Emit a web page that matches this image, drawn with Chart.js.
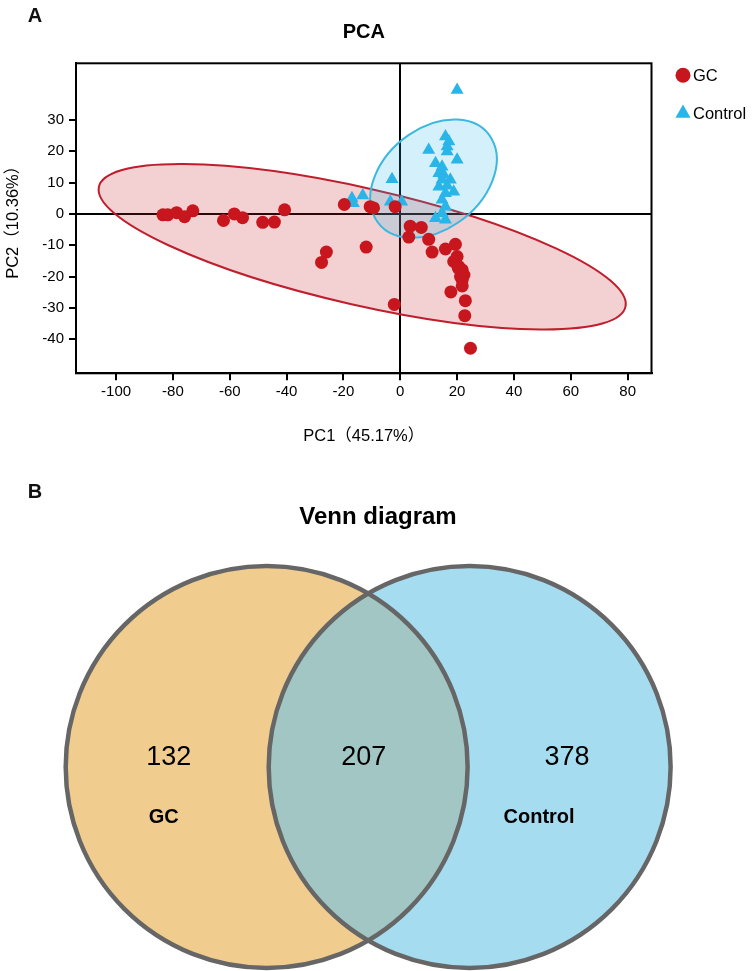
<!DOCTYPE html>
<html>
<head>
<meta charset="utf-8">
<script src="https://cdn.jsdelivr.net/npm/chart.js@4.4.0/dist/chart.umd.min.js"></script>
<style>
  html, body { margin: 0; padding: 0; background: #ffffff; }
  #wrap { position: relative; width: 756px; height: 971px; overflow: hidden; background: #fff; }
  #pca { position: absolute; left: 0; top: 0; }
  #venn { position: absolute; left: 0; top: 470px; }
</style>
</head>
<body>
<div id="wrap">
  <canvas id="pca" width="756" height="450"></canvas>
  <canvas id="venn" width="756" height="501"></canvas>
</div>
<script>
// ---------------- DATA ----------------
const seriesNames = ['GC', 'Control'];

const gcPC1 = [-83.5, -81.8, -78.7, -75.9, -73.0, -62.2, -58.4, -55.5, -48.4, -44.3, -40.7,
               -26.0, -27.7, -19.7, -12.0, -10.6, -9.4, -1.8, -2.1,
               3.5, 7.4, 3.0, 10.0, 11.2, 15.9, 19.4, 20.0, 18.8, 20.6, 21.8, 22.4,
               21.8, 21.8, 17.8, 22.9, 22.7, 24.7, 21.2, 20.4];
const gcPC2 = [-0.3, -0.3, 0.4, -0.9, 1.0, -2.1, 0.0, -1.2, -2.7, -2.6, 1.3,
               -12.2, -15.5, 3.0, -10.6, 2.3, 1.9, 2.3, -28.9,
               -3.9, -4.3, -7.4, -8.1, -12.2, -11.2, -9.7, -13.6, -15.2, -16.8, -17.9, -19.5,
               -21.1, -23.0, -24.9, -27.7, -32.5, -42.9, -20.0, -17.3];

const ctrlPC1 = [20.0, -17.0, -16.5, -13.2, -2.9, -3.5, 0.5,
                 15.9, 17.1, 10.0, 16.5, 20.0, 12.4, 14.7, 13.6, 17.6, 14.7, 13.6,
                 18.8, 15.9, 14.7, 15.9, 14.7, 12.4, 15.9, 16.5, 15.3, 16.5, 14.1];
const ctrlPC2 = [39.6, 5.0, 3.4, 5.9, 11.1, 3.9, 3.9,
                 24.7, 23.1, 20.4, 19.9, 17.3, 16.2, 15.1, 13.0, 10.9, 10.9, 8.7,
                 7.1, 6.6, 4.5, 2.3, 0.2, -1.4, -1.9, 21.5, 12.5, 9.0, 13.5];

// confidence ellipses (GC, Control) in PC units
const ellipseCenterPC1 = [-13.4, 11.7];
const ellipseCenterPC2 = [-10.5, 11.25];
const ellipseSemiMajor = [94.6, 24.1];
const ellipseSemiMinor = [18.7, 16.46];
const ellipseAngleDeg  = [-11.6, 31.8];

const xTicks = [-100, -80, -60, -40, -20, 0, 20, 40, 60, 80];
const yTicks = [-40, -30, -20, -10, 0, 10, 20, 30];

// Venn
const vennSets   = ['GC', 'Control'];
const vennOnly   = [132, 378];
const vennShared = 207;

// ---------------- STYLE / LAYOUT ----------------
const FONT = "'Liberation Sans', Arial, 'Noto Sans CJK SC', sans-serif";
Chart.defaults.font.family = FONT;
Chart.defaults.color = '#000';

const RED = '#c8161e', BLUE = '#29b5e8';
const ELL_FILL = ['rgba(200,40,50,0.22)', 'rgba(40,180,230,0.20)'];
const ELL_LINE = ['#bf1e2d', '#3cb8e0'];

const panelLetter = (letter, x, y) => ({
  id: 'letter' + letter,
  afterDraw(chart) {
    const c = chart.ctx;
    c.save();
    c.font = "bold 20px " + FONT;
    c.fillStyle = '#111';
    c.textAlign = 'center';
    c.textBaseline = 'middle';
    c.fillText(letter, x, y);
    c.restore();
  }
});

const ellipsePlugin = {
  id: 'ellipses',
  beforeDatasetsDraw(chart) {
    const c = chart.ctx, xs = chart.scales.x, ys = chart.scales.y;
    const sx = xs.getPixelForValue(1) - xs.getPixelForValue(0);
    const sy = ys.getPixelForValue(0) - ys.getPixelForValue(1);
    for (let i = 0; i < ellipseCenterPC1.length; i++) {
      c.save();
      c.beginPath();
      c.translate(xs.getPixelForValue(ellipseCenterPC1[i]), ys.getPixelForValue(ellipseCenterPC2[i]));
      c.scale(sx, -sy);
      c.rotate(ellipseAngleDeg[i] * Math.PI / 180);
      c.ellipse(0, 0, ellipseSemiMajor[i], ellipseSemiMinor[i], 0, 0, Math.PI * 2);
      c.restore();
      c.save();
      c.fillStyle = ELL_FILL[i];
      c.fill();
      c.lineWidth = 2;
      c.strokeStyle = ELL_LINE[i];
      c.stroke();
      c.restore();
    }
  }
};

const framePlugin = {
  id: 'frame',
  afterDraw(chart) {
    const c = chart.ctx, a = chart.chartArea;
    c.save();
    c.strokeStyle = '#000';
    c.lineWidth = 2;
    c.strokeRect(a.left, a.top, a.right - a.left, a.bottom - a.top);
    // legend
    const ds = chart.data.datasets;
    c.font = "16.5px " + FONT;
    c.textBaseline = 'middle';
    c.textAlign = 'left';
    ds.forEach((d, i) => {
      const px = a.right + 31.5, py = a.top + 12 + i * 38;
      c.fillStyle = d.backgroundColor;
      c.beginPath();
      if (d.pointStyle === 'triangle') {
        const r = 8.7;
        c.moveTo(px, py - r);
        c.lineTo(px + r * Math.sin(2 * Math.PI / 3), py - r * Math.cos(2 * Math.PI / 3));
        c.lineTo(px + r * Math.sin(4 * Math.PI / 3), py - r * Math.cos(4 * Math.PI / 3));
        c.closePath();
      } else {
        c.arc(px, py, 7.5, 0, Math.PI * 2);
      }
      c.fill();
      c.fillStyle = '#000';
      c.fillText(d.label, px + 10, py + 1);
    });
    c.restore();
  }
};

const axisGrid = {
  color: (ctx) => (ctx.tick && ctx.tick.value === 0) ? '#000' : 'rgba(0,0,0,0)',
  lineWidth: 2,
  drawOnChartArea: true,
  drawTicks: true,
  tickColor: '#000',
  tickLength: 7,
  tickWidth: 2
};

new Chart(document.getElementById('pca'), {
  type: 'scatter',
  data: {
    datasets: [
      {
        label: seriesNames[0],
        data: gcPC1.map((x, i) => ({ x: x, y: gcPC2[i] })),
        pointStyle: 'circle',
        pointRadius: 6.5,
        backgroundColor: RED,
        borderColor: RED,
        borderWidth: 0
      },
      {
        label: seriesNames[1],
        data: ctrlPC1.map((x, i) => ({ x: x, y: ctrlPC2[i] })),
        pointStyle: 'triangle',
        pointRadius: 7.5,
        backgroundColor: BLUE,
        borderColor: BLUE,
        borderWidth: 0
      }
    ]
  },
  options: {
    responsive: false,
    animation: false,
    layout: { padding: { left: 0, right: 104.5, top: 0, bottom: 0 } },
    plugins: {
      legend: { display: false },
      tooltip: { enabled: false },
      title: {
        display: true,
        text: 'PCA',
        fullSize: false,
        color: '#000',
        font: { size: 20, weight: 'bold' },
        padding: { top: 20, bottom: 19.3 }
      }
    },
    scales: {
      x: {
        type: 'linear',
        min: -114.1,
        max: 88.4,
        grid: axisGrid,
        border: { display: true, color: '#000', width: 2 },
        ticks: { color: '#000', font: { size: 15 }, padding: 3, autoSkip: false, maxRotation: 0 },
        afterBuildTicks: (s) => { s.ticks = xTicks.map(v => ({ value: v })); },
        afterFit: (s) => { s.height = 76.7; },
        title: { display: true, text: 'PC1（45.17%）', color: '#000', font: { size: 16.5 } }
      },
      y: {
        type: 'linear',
        min: -50.9,
        max: 48.1,
        grid: axisGrid,
        border: { display: true, color: '#000', width: 2 },
        ticks: { color: '#000', font: { size: 15 }, padding: 5, autoSkip: false },
        afterBuildTicks: (s) => { s.ticks = yTicks.map(v => ({ value: v })); },
        afterFit: (s) => { s.width = 76; },
        title: { display: true, text: 'PC2（10.36%）', color: '#000', font: { size: 16.5 } }
      }
    }
  },
  plugins: [ellipsePlugin, framePlugin, panelLetter('A', 35, 16)]
});

// ---------------- VENN ----------------
const VENN = {
  centers: [-0.5, 0.5],
  radius: 0.99,
  fills: ['#f0cd8e', '#a6dcef'],
  overlap: '#a1c6c4',
  line: '#666666',
  countPos: [[-0.982, 0.045], [-0.022, 0.045], [0.98, 0.045]],
  namePos: [[-1.007, -0.25], [0.842, -0.25]]
};

const vennPlugin = {
  id: 'venn',
  afterDraw(chart) {
    const c = chart.ctx, xs = chart.scales.x, ys = chart.scales.y;
    const cx = VENN.centers.map(v => xs.getPixelForValue(v));
    const cy = ys.getPixelForValue(0);
    const r = xs.getPixelForValue(VENN.radius) - xs.getPixelForValue(0);
    const circ = (x) => { c.beginPath(); c.arc(x, cy, r, 0, Math.PI * 2); };
    c.save();
    circ(cx[0]); c.fillStyle = VENN.fills[0]; c.fill();
    circ(cx[1]); c.fillStyle = VENN.fills[1]; c.fill();
    c.save();
    circ(cx[0]); c.clip();
    circ(cx[1]); c.fillStyle = VENN.overlap; c.fill();
    c.restore();
    c.lineWidth = 4.5;
    c.strokeStyle = VENN.line;
    circ(cx[0]); c.stroke();
    circ(cx[1]); c.stroke();

    c.fillStyle = '#000';
    c.textAlign = 'center';
    c.textBaseline = 'middle';
    c.font = "27px " + FONT;
    const counts = [vennOnly[0], vennShared, vennOnly[1]];
    counts.forEach((n, i) => {
      c.fillText(String(n), xs.getPixelForValue(VENN.countPos[i][0]), ys.getPixelForValue(VENN.countPos[i][1]));
    });
    c.font = "bold 20px " + FONT;
    vennSets.forEach((s, i) => {
      c.fillText(s, xs.getPixelForValue(VENN.namePos[i][0]), ys.getPixelForValue(VENN.namePos[i][1]));
    });
    c.restore();
  }
};

new Chart(document.getElementById('venn'), {
  type: 'scatter',
  data: { datasets: [] },
  options: {
    responsive: false,
    animation: false,
    layout: { padding: 0 },
    plugins: {
      legend: { display: false },
      tooltip: { enabled: false },
      title: {
        display: true,
        text: 'Venn diagram',
        color: '#000',
        font: { size: 24, weight: 'bold' },
        padding: { top: 32.6, bottom: 24.6 }
      }
    },
    scales: {
      x: { type: 'linear', min: -1.8136, max: 1.9106, display: false },
      y: { type: 'linear', min: -1.0049, max: 1.0394, display: false }
    }
  },
  plugins: [vennPlugin, panelLetter('B', 35, 22.5)]
});
</script>
</body>
</html>
